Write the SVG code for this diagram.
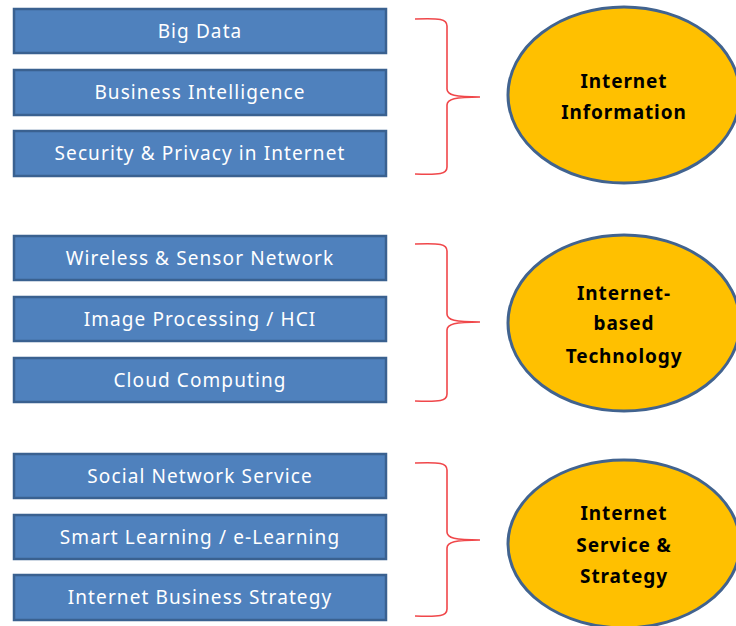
<svg xmlns="http://www.w3.org/2000/svg" width="736" height="626" viewBox="0 0 736 626">
<style>
.box{fill:#4F81BD;stroke:#3A6190;stroke-width:2.5}
.bt{fill:#FFFFFF;font-family:"Noto Sans","Open Sans",sans-serif;font-size:19px;letter-spacing:1.1px;text-anchor:middle}
.ell{fill:#FFC000;stroke:#41638F;stroke-width:3}
.et{fill:#000000;font-family:"Noto Sans","Open Sans",sans-serif;font-size:19px;letter-spacing:0.9px;font-weight:bold;text-anchor:middle}
.br{fill:none;stroke:#F0474A;stroke-width:1.6}
</style>
<rect width="736" height="626" fill="#FFFFFF"/>
<g id="n-bigdata"><rect class="box" x="14" y="9" width="372" height="44"/><text class="bt" x="200" y="38">Big Data</text></g>
<g id="n-bi"><rect class="box" x="14" y="70" width="372" height="45"/><text class="bt" x="200" y="99">Business Intelligence</text></g>
<g id="n-security"><rect class="box" x="14" y="131" width="372" height="45"/><text class="bt" x="200" y="160">Security &amp; Privacy in Internet</text></g>
<g id="n-wireless"><rect class="box" x="14" y="236" width="372" height="44"/><text class="bt" x="200" y="265">Wireless &amp; Sensor Network</text></g>
<g id="n-image"><rect class="box" x="14" y="297" width="372" height="44"/><text class="bt" x="200" y="326">Image Processing / HCI</text></g>
<g id="n-cloud"><rect class="box" x="14" y="358" width="372" height="44"/><text class="bt" x="200" y="387">Cloud Computing</text></g>
<g id="n-sns"><rect class="box" x="14" y="454" width="372" height="44"/><text class="bt" x="200" y="483">Social Network Service</text></g>
<g id="n-smart"><rect class="box" x="14" y="515" width="372" height="44"/><text class="bt" x="200" y="544">Smart Learning / e-Learning</text></g>
<g id="n-ibs"><rect class="box" x="14" y="575" width="372" height="45"/><text class="bt" x="200" y="604">Internet Business Strategy</text></g>
<g id="n-info"><ellipse class="ell" cx="624" cy="95" rx="116" ry="88"/><text class="et" x="624" y="88">Internet</text><text class="et" x="624" y="119">Information</text></g>
<g id="n-tech"><ellipse class="ell" cx="624" cy="323" rx="116" ry="88"/><text class="et" x="624" y="300">Internet-</text><text class="et" x="624" y="330">based</text><text class="et" x="624" y="363">Technology</text></g>
<g id="n-service"><ellipse class="ell" cx="624" cy="544" rx="116" ry="84"/><text class="et" x="624" y="520">Internet</text><text class="et" x="624" y="552">Service &amp;</text><text class="et" x="624" y="583">Strategy</text></g>
<g id="connectors">
<path class="br" d="M415,19 C440,18 447,19 447,26 L447,89 C447,95 455,97 480,97 C455,97 447,99 447,105 L447,167 C447,174 440,175 415,174"/>
<path class="br" d="M415,244 C440,243 447,244 447,251 L447,314 C447,320 455,322 480,322 C455,322 447,324 447,330 L447,394 C447,401 440,402 415,401"/>
<path class="br" d="M415,463 C440,462 447,463 447,470 L447,532 C447,538 455,540 480,540 C455,540 447,542 447,548 L447,609 C447,616 440,617 415,616"/>
</g>
</svg>
